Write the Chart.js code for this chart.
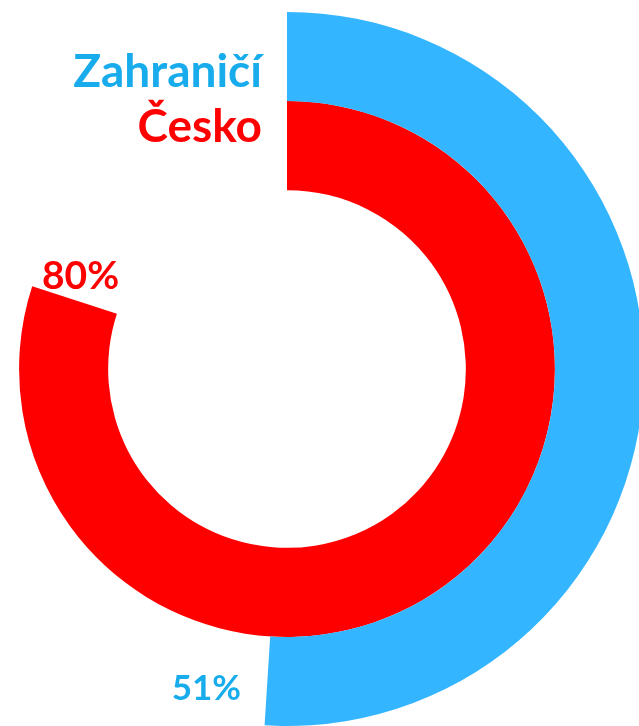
<!DOCTYPE html>
<html>
<head>
<meta charset="utf-8">
<script src="https://cdn.jsdelivr.net/npm/chart.js@4"></script>
<style>
html,body{margin:0;padding:0;background:#fff;overflow:hidden;width:639px;height:726px;}
#wrap{position:absolute;left:-70px;top:0;width:714px;height:726px;}
</style>
</head>
<body>
<div id="wrap"><canvas id="c"></canvas></div>
<script>
const categories = ["Zahraničí", "Česko"];
const seriesValues = [51, 80];
const valueLabels = ["51%", "80%"];
const ringColors = ["#33b5ff", "#ff0000"];
const textColors = ["#18acec", "#ff0000"];

const labelPlugin = {
  id: 'labels',
  afterDraw(chart) {
    const ctx = chart.ctx;
    const ox = 70; // offset of canvas relative to page
    ctx.save();
    ctx.font = "bold 46px Lato";
    ctx.textAlign = "right";
    ctx.textBaseline = "alphabetic";
    ctx.fillStyle = textColors[0];
    ctx.fillText(categories[0], 262 + ox, 87);
    ctx.fillStyle = textColors[1];
    ctx.fillText(categories[1], 262 + ox, 142);
    ctx.font = "bold 39px Lato";
    ctx.textAlign = "left";
    ctx.fillStyle = textColors[1];
    ctx.fillText(valueLabels[1], 42 + ox, 289);
    ctx.font = "bold 35px Lato";
    ctx.textAlign = "right";
    ctx.fillStyle = textColors[0];
    ctx.fillText(valueLabels[0], 241 + ox, 700);
    ctx.restore();
  }
};

new Chart(document.getElementById('c'), {
  type: 'doughnut',
  data: {
    labels: ["value", "rest"],
    datasets: seriesValues.map((v, i) => ({
      label: categories[i],
      data: [v, 100 - v],
      backgroundColor: [ringColors[i], 'rgba(0,0,0,0)'],
      borderWidth: 0
    }))
  },
  options: {
    responsive: true,
    maintainAspectRatio: false,
    animation: false,
    events: [],
    cutout: '50.1%',
    layout: { padding: { top: 12 } },
    plugins: { legend: { display: false }, tooltip: { enabled: false } }
  },
  plugins: [labelPlugin]
});
</script>
</body>
</html>
